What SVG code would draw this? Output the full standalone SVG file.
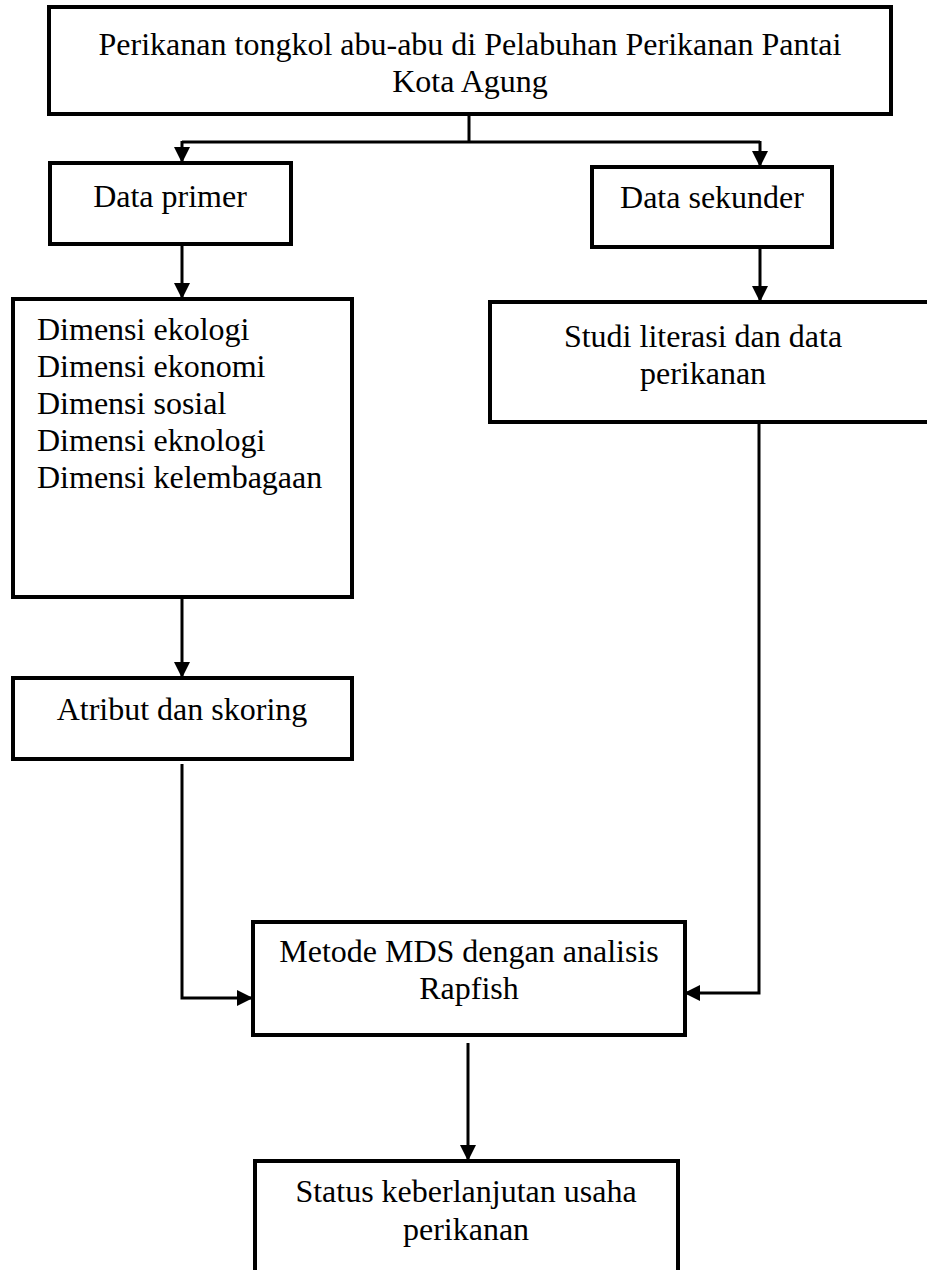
<svg xmlns="http://www.w3.org/2000/svg" width="927" height="1270" viewBox="0 0 927 1270">
<style>
.box{fill:#fff;stroke:#000;stroke-width:4}
.c{fill:none;stroke:#000;stroke-width:3}
text{font-family:"Liberation Serif","Times New Roman",serif;font-size:32px;fill:#000}
.m{text-anchor:middle}
</style>
<defs>
<marker id="ah" markerUnits="userSpaceOnUse" markerWidth="18" markerHeight="18" viewBox="0 0 18 18" refX="16" refY="9" orient="auto">
<path d="M0,1 L16,9 L0,17 Z" fill="#000"/>
</marker>
</defs>
<rect width="927" height="1270" fill="#fff"/>
<g id="connectors">
<path class="c" d="M469,114 V142"/>
<path class="c" d="M182,142 H760"/>
<path class="c" d="M182,141 V163" marker-end="url(#ah)"/>
<path class="c" d="M760,141 V167" marker-end="url(#ah)"/>
<path class="c" d="M182,244 V299" marker-end="url(#ah)"/>
<path class="c" d="M760,247 V302" marker-end="url(#ah)"/>
<path class="c" d="M182,597 V678" marker-end="url(#ah)"/>
<path class="c" d="M182,764 V998 H253" marker-end="url(#ah)"/>
<path class="c" d="M759,422 V993 H684" marker-end="url(#ah)"/>
<path class="c" d="M468,1043 V1161" marker-end="url(#ah)"/>
</g>
<g id="n-top">
<rect class="box" x="49" y="7" width="842" height="107"/>
<text class="m" x="470" y="55">Perikanan tongkol abu-abu di Pelabuhan Perikanan Pantai</text>
<text class="m" x="470" y="92">Kota Agung</text>
</g>
<g id="n-primer">
<rect class="box" x="50" y="163" width="241" height="81"/>
<text class="m" x="170" y="207">Data primer</text>
</g>
<g id="n-sekunder">
<rect class="box" x="592" y="167" width="240" height="80"/>
<text class="m" x="712" y="208">Data sekunder</text>
</g>
<g id="n-dimensi">
<rect class="box" x="13" y="299" width="339" height="298"/>
<text x="37" y="340">Dimensi ekologi</text>
<text x="37" y="377">Dimensi ekonomi</text>
<text x="37" y="414">Dimensi sosial</text>
<text x="37" y="451">Dimensi eknologi</text>
<text x="37" y="488">Dimensi kelembagaan</text>
</g>
<g id="n-studi">
<rect class="box" x="490" y="302" width="450" height="120"/>
<text class="m" x="703" y="347">Studi literasi dan data</text>
<text class="m" x="703" y="384">perikanan</text>
</g>
<g id="n-atribut">
<rect class="box" x="13" y="678" width="339" height="81"/>
<text class="m" x="182" y="720">Atribut dan skoring</text>
</g>
<g id="n-mds">
<rect class="box" x="253" y="922" width="432" height="113"/>
<text class="m" x="469" y="962">Metode MDS dengan analisis</text>
<text class="m" x="469" y="999">Rapfish</text>
</g>
<g id="n-status">
<rect class="box" x="255" y="1161" width="423" height="130"/>
<text class="m" x="466" y="1202">Status keberlanjutan usaha</text>
<text class="m" x="466" y="1240">perikanan</text>
</g>
</svg>
